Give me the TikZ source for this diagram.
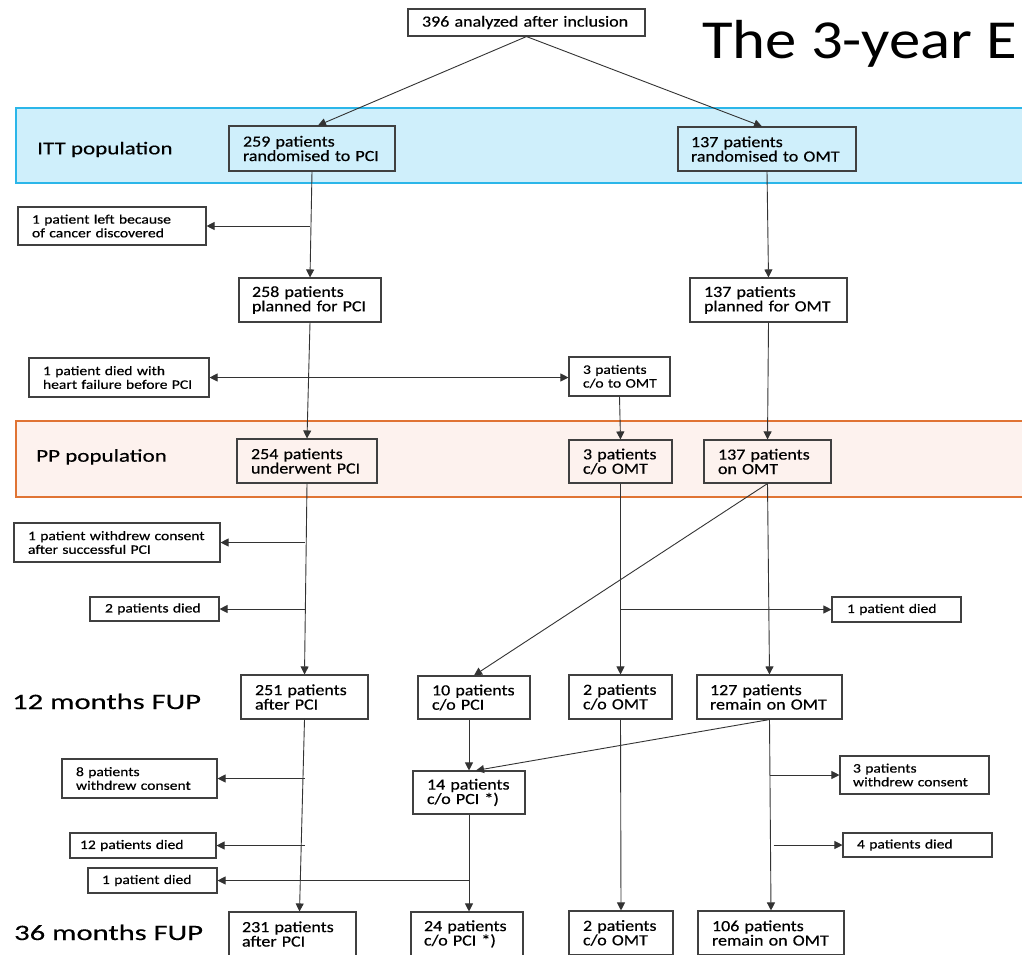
\documentclass[tikz,border=0pt]{standalone}
\usepackage{fontspec}
\setmainfont{Carlito}
\newfontfamily\bxf{Carlito}[FakeStretch=1.16,FakeBold=0.5]
\newfontfamily\smf{Carlito}[FakeStretch=1.2,FakeBold=0.5]
\newfontfamily\lbf{Carlito}[FakeStretch=1.28,FakeBold=0.4]
\newfontfamily\fupf{Carlito}[FakeStretch=1.39,FakeBold=0.4]
\newfontfamily\ttlf{Carlito}[FakeStretch=1.14]
\usetikzlibrary{arrows.meta,calc}
\definecolor{ittfill}{HTML}{CFEFFB}
\definecolor{ittline}{HTML}{2BB6E9}
\definecolor{ppfill}{HTML}{FDF2EE}
\definecolor{ppline}{HTML}{E07434}
\definecolor{boxc}{HTML}{404040}
\definecolor{linec}{HTML}{333333}
\newcommand{\mkbox}[8]{%
  \pgfmathsetmacro\bw{#5-#3}\pgfmathsetmacro\bh{#6-#4}%
  \pgfmathsetmacro\tw{#5-#3-2*#7}%
  \pgfmathsetmacro\cx{(#3+#5)/2}\pgfmathsetmacro\cy{(#4+#6)/2}%
  \node[#1, minimum width=\bw pt, minimum height=\bh pt, text width=\tw pt, inner xsep=#7pt] (#2) at (\cx,\cy) {#8};}
\begin{document}
\begin{tikzpicture}[x=1pt,y=-1pt,
  bigbox/.style={draw=boxc, line width=1.1pt, inner ysep=0pt, align=left,
    font={\bxf\fontsize{15.5}{14.4}\selectfont\lineskiplimit=-100pt}},
  smallbox/.style={draw=boxc, line width=1.1pt, inner ysep=0pt, align=left,
    font={\smf\fontsize{13}{13.7}\selectfont\lineskiplimit=-100pt}},
  arr/.style={draw=linec, line width=0.9pt, -{Triangle[length=8pt,width=8pt]}},
  arrtwo/.style={draw=linec, line width=0.9pt, {Triangle[length=8pt,width=8pt]}-{Triangle[length=8pt,width=8pt]}},
  lbl/.style={anchor=base west, inner sep=0pt, font={\lbf\fontsize{18}{18}\selectfont}},
  fup/.style={anchor=base west, inner sep=0pt, font={\fupf\fontsize{22}{22}\selectfont}}
]
\useasboundingbox (0,0) rectangle (1022,954);
\clip (0,0) rectangle (1022,954);
\fill[white] (0,0) rectangle (1022,954);
% bands
\filldraw[fill=ittfill, draw=ittline, line width=2pt] (16,108) rectangle (1040,183);
\filldraw[fill=ppfill, draw=ppline, line width=2pt] (16,421) rectangle (1040,497);
% title and labels
\node[anchor=base west, inner sep=0pt, font={\ttlf\fontsize{55}{55}\selectfont}] (title) at (702,58) {The 3-year E};
\node[lbl] (itt) at (37,154.3) {ITT population};
\node[lbl] (pp) at (36,461.7) {PP population};
\node[fup] (m12) at (12,709) {12 months FUP};
\node[fup] (m36) at (14,940) {36 months FUP};
% main boxes
\mkbox{bigbox}{top}{408}{9}{645}{36}{14}{396 analyzed after inclusion}
\mkbox{bigbox}{b259}{229}{126}{395}{171}{14}{259 patients\\randomised to PCI}
\mkbox{bigbox}{r137}{678}{127}{856}{171}{13}{137 patients\\randomised to OMT}
\mkbox{bigbox}{b258}{239}{278}{381}{322}{13}{258 patients\\planned for PCI}
\mkbox{bigbox}{p137}{690}{278}{847}{322}{14}{137 patients\\planned for OMT}
\mkbox{bigbox}{b254}{237}{439}{377}{483}{14}{254 patients\\underwent PCI}
\mkbox{bigbox}{c3}{569}{440}{672}{483}{14}{3 patients\\c/o OMT}
\mkbox{bigbox}{on137}{704}{440}{831}{483}{14}{137 patients\\on OMT}
\mkbox{bigbox}{b251}{241}{675}{368}{719}{14}{251 patients\\after PCI}
\mkbox{bigbox}{c10}{418}{676}{530}{719}{14}{10 patients\\c/o PCI}
\mkbox{bigbox}{c2}{569}{675}{672}{719}{14}{2 patients\\c/o OMT}
\mkbox{bigbox}{r127}{697}{675}{842}{719}{13}{127 patients\\remain on OMT}
\mkbox{bigbox}{b14}{413}{771}{525}{814}{14}{14 patients\\c/o PCI *)}
\mkbox{bigbox}{b231}{229}{912}{356}{956}{13}{231 patients\\after PCI}
\mkbox{bigbox}{b24}{411}{912}{523}{956}{13}{24 patients\\c/o PCI *)}
\mkbox{bigbox}{c2b}{569}{911}{673}{955}{14}{2 patients\\c/o OMT}
\mkbox{bigbox}{r106}{698}{911}{844}{955}{14}{106 patients\\remain on OMT}
% small boxes
\mkbox{smallbox}{left1}{18}{207}{206}{245}{14}{1 patient left because\\of cancer discovered}
\mkbox{smallbox}{left2}{29}{358}{209}{397}{14}{1 patient died with\\heart failure before PCI}
\mkbox{smallbox}{co3}{569}{357}{670}{396}{10}{\hspace*{4pt}3 patients\\\hspace*{4pt}c/o to OMT}
\mkbox{smallbox}{wd1}{14}{523}{220}{562}{14}{1 patient withdrew consent\\after successful PCI}
\mkbox{smallbox}{died2}{90}{597}{219}{621}{15}{2 patients died}
\mkbox{smallbox}{died1r}{832}{597}{961}{622}{15}{1 patient died}
\mkbox{smallbox}{wd8}{62}{759}{217}{798}{14}{8 patients\\withdrew consent}
\mkbox{smallbox}{died12}{70}{833}{216}{858}{10}{12 patients died}
\mkbox{smallbox}{died1b}{88}{868}{217}{893}{14}{1 patient died}
\mkbox{smallbox}{wd3}{840}{756}{989}{794}{13}{3 patients\\withdrew consent}
\mkbox{smallbox}{died4}{843}{833}{992}{857}{14}{4 patients died}
% connectors
\draw[arr] (top.south) -- ([xshift=6pt]b259.north);
\draw[arr] (top.south) -- ([xshift=-5pt]r137.north);
\draw[arr] (b259.south) -- (b258.north);
\draw[arr] (left1.east -| b258.north) -- (left1.east);
\draw[arr] (b258.south) -- (b254.north);
\draw[arrtwo] (left2.east) -- (left2.east -| co3.west);
\draw[arr] (r137.south) -- (p137.north);
\draw[arr] (p137.south) -- (on137.north);
\draw[arr] (co3.south) -- (c3.north);
\draw[arr] (b254.south) -- (b251.north);
\draw[arr] (wd1.east -| b251.north) -- (wd1.east);
\draw[arr] (died2.east -| b251.north) -- (died2.east);
\draw[arr] (on137.south) -- (c10.north);
\draw[arr] (on137.south) -- (r127.north);
\draw[arr] (c3.south) -- (c2.north);
\draw[arr] (c2.north |- died1r.west) -- (died1r.west);
\draw[arr] (b251.south) -- ([xshift=7pt]b231.north);
\draw[arr] (wd8.east -| b251.south) -- (wd8.east);
\draw[arr] (died12.east -| b251.south) -- (died12.east);
\draw[arr] (b14.north |- c10.south) -- (b14.north);
\draw[arr] (r127.south) -- ([xshift=7pt]b14.north);
\draw[arr] (b14.south) -- (b14.south |- b24.north);
\draw[arr] (b14.south |- died1b.east) -- (died1b.east);
\draw[arr] (c2.south) -- (c2b.north);
\draw[arr] (r127.south) -- (r106.north);
\draw[arr] (r127.south |- wd3.west) -- (wd3.west);
\draw[arr] ([xshift=4pt]r127.south |- died4.west) -- (died4.west);
\end{tikzpicture}
\end{document}
